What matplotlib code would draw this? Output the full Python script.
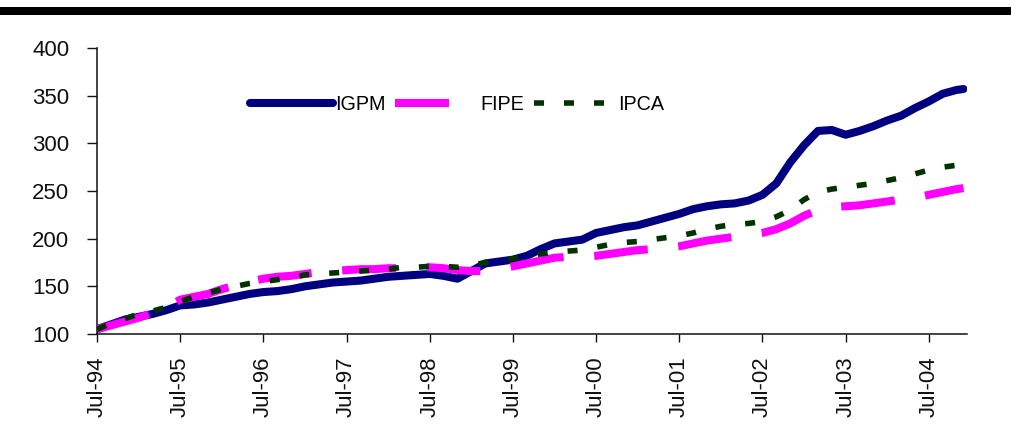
import matplotlib
matplotlib.use("Agg")
import matplotlib.pyplot as plt
from matplotlib.patches import Rectangle

# Month offsets from Jul-94 (every second month, ending Dec-04)
months = list(range(0, 125, 2)) + [125]

igpm = [105, 110, 115, 118, 121, 125, 130, 131, 133, 136, 139, 142,
        144, 145, 147, 150, 152, 154, 155, 156, 158, 160, 161, 162,
        163, 161, 158, 166, 174, 176, 178, 182, 189, 195, 197, 199,
        206, 209, 212, 214, 218, 222, 226, 231, 234, 236, 237, 240,
        246, 258, 280, 298, 313, 314, 309, 313, 318, 324, 329, 337,
        344, 352, 356, 357]

fipe = [105, 109, 113, 117, 122, 128, 136, 139, 142, 147, 151, 155,
        158, 160, 161, 163, 165, 166, 167, 168, 168, 169, 169, 170,
        170, 169, 167, 166, 166, 168, 171, 174, 177, 180, 181, 181,
        182, 184, 186, 188, 189, 190, 192, 195, 198, 200, 202, 204,
        206, 210, 216, 224, 230, 233, 234, 235, 237, 239, 241, 243,
        246, 249, 252, 253]

ipca = [105, 111, 116, 121, 124, 128, 134, 139, 143, 147, 150, 153,
        155, 157, 159, 162, 163, 164, 165, 166, 167, 168, 170, 170,
        171, 171, 170, 172, 175, 177, 179, 182, 184, 186, 187, 188,
        191, 194, 196, 197, 199, 201, 203, 206, 210, 213, 215, 216,
        218, 223, 230, 241, 249, 252, 254, 256, 258, 261, 264, 268,
        272, 275, 277, 278]

tick_months = list(range(0, 121, 12))
tick_labels = ["Jul-94", "Jul-95", "Jul-96", "Jul-97", "Jul-98", "Jul-99",
               "Jul-00", "Jul-01", "Jul-02", "Jul-03", "Jul-04"]

plt.rcParams["font.family"] = ["Liberation Sans", "DejaVu Sans"]

fig = plt.figure(figsize=(10.11, 4.36), dpi=100)
ax = fig.add_axes([97 / 1011, 1 - 334 / 436, (967 - 97) / 1011, (334 - 48) / 436])

lw_thick = 5.8
ax.plot(months, igpm, color="#000080", lw=lw_thick, solid_capstyle="round",
        solid_joinstyle="round", label="IGPM", zorder=3)
l_fipe, = ax.plot(months, fipe, color="#FF00FF", lw=lw_thick, label="FIPE",
                  dash_capstyle="butt", zorder=4)
l_fipe.set_dashes((6.7, 3.8))
l_ipca, = ax.plot(months, ipca, color="#003300", lw=4.0, label="IPCA",
                  dash_capstyle="butt", zorder=5)
l_ipca.set_dashes((1.8, 3.6))

ax.set_xlim(0, 125.5)
ax.set_ylim(100, 400)
ax.set_yticks(range(100, 401, 50))
ax.set_xticks(tick_months)
ax.set_xticklabels(tick_labels, rotation=90)

for side in ("top", "right"):
    ax.spines[side].set_visible(False)
for side in ("left", "bottom"):
    ax.spines[side].set_linewidth(1.1)
    ax.spines[side].set_color("#111111")

ax.tick_params(axis="y", direction="out", length=7, width=1.0, pad=13,
               labelsize=16, colors="#111111")
ax.tick_params(axis="x", direction="out", length=6, width=1.0, pad=10,
               labelsize=16, colors="#111111")

leg = ax.legend(loc="center left", bbox_to_anchor=(250 / 1011, 1 - 104 / 436),
                bbox_transform=fig.transFigure, ncol=3, frameon=False,
                fontsize=14.2, handlelength=4.2, handletextpad=0.1,
                columnspacing=0.5, borderpad=0, borderaxespad=0)

# Heavy rule across the top of the page
fig.add_artist(Rectangle((0, 1 - 15 / 436), 1, 8 / 436, transform=fig.transFigure,
                         facecolor="black", edgecolor="none"))

fig.savefig("out.png", dpi=100)
